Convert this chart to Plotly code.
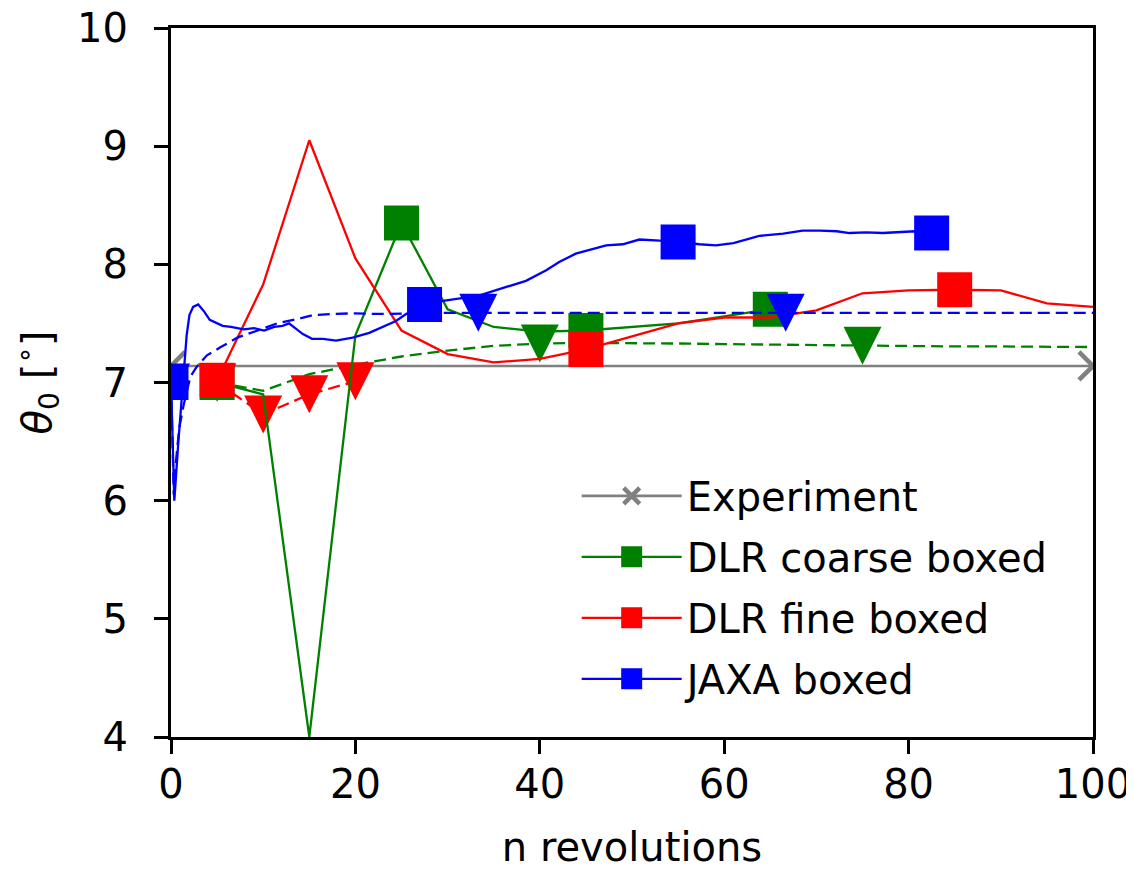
import plotly.graph_objects as go

# ---------------- data ----------------
exp_x = [0, 100]
exp_y = [7.14, 7.14]

# DLR coarse (dashed, triangles)
gc_dash_x = [5, 10, 15, 20, 25, 30, 35, 40, 45, 50, 55, 60, 65, 70, 75, 80, 85, 90, 95, 100]
gc_dash_y = [7.00, 6.93, 7.07, 7.15, 7.22, 7.27, 7.31, 7.33, 7.335, 7.335, 7.33, 7.325,
             7.32, 7.315, 7.31, 7.31, 7.305, 7.305, 7.30, 7.30]
gc_dash_mark = [5, 40, 75]

# DLR fine (dashed, triangles)
rf_dash_x = [5, 10, 15, 20]
rf_dash_y = [7.00, 6.73, 6.90, 7.01]
rf_dash_mark = [5, 10, 15, 20]

# DLR coarse boxed (solid, squares)
gc_box_x = [5, 10, 15, 20, 25, 30, 35, 40, 45, 50, 55, 60, 65]
gc_box_y = [7.00, 6.90, 4.00, 7.40, 8.35, 7.62, 7.47, 7.43, 7.44, 7.47, 7.50, 7.56, 7.62]
gc_box_mark = [5, 25, 45, 65]

# DLR fine boxed (solid, squares)
rf_box_x = [5, 10, 15, 20, 25, 30, 35, 40, 45, 50, 55, 60, 65, 70, 75, 80, 85, 90, 95, 100]
rf_box_y = [7.02, 7.83, 9.05, 8.05, 7.44, 7.24, 7.17, 7.20, 7.28, 7.39, 7.50, 7.55,
            7.55, 7.61, 7.755, 7.78, 7.785, 7.78, 7.67, 7.64]
rf_box_mark = [5, 45, 85]

# JAXA (dashed, triangles)
jx_dash_x = [0, 0.3, 0.5, 0.9, 1.4, 2.1, 2.85, 3.9, 5.4, 7.2, 9.4, 11.5, 13.9, 15.4, 17.5,
             19.7, 22.7, 25.2, 27.5, 30, 33.33, 40, 50, 60, 66.67, 70, 80, 90, 100]
jx_dash_y = [7.00, 6.05, 6.30, 6.62, 6.82, 7.05, 7.14, 7.23, 7.30, 7.38, 7.44, 7.50, 7.54, 7.57, 7.58,
             7.585, 7.58, 7.585, 7.585, 7.59, 7.59, 7.59, 7.59, 7.59, 7.59, 7.59, 7.59, 7.59, 7.59]
jx_dash_mark = [0, 33.33, 66.67]

# JAXA boxed (solid, squares)
jx_box_x = [0, 0.36, 0.8, 1.3, 1.7, 2.0, 2.4, 2.95, 3.6, 4.2, 4.7, 5.6, 6.5, 7.9, 9.0, 10.1,
            11.2, 12.1, 12.8, 13.5, 14.3, 15.3, 16.5, 17.9, 18.8, 19.7, 21.5, 22.9, 24.4,
            25.5, 27.5, 29.5, 31.5, 33.4, 35.6, 38.5, 40.7, 42.1, 43.9, 45.7, 47.2, 49.0,
            50.8, 53.0, 55.0, 57.3, 59.1, 61.0, 62.4, 63.8, 66.4, 68.5, 70.4, 72.2, 73.6,
            75.4, 77.2, 79.0, 80.7, 82.5]
jx_box_y = [7.00, 6.00, 6.50, 7.05, 7.40, 7.57, 7.64, 7.66, 7.60, 7.53, 7.51, 7.48, 7.47, 7.45,
            7.46, 7.44, 7.47, 7.48, 7.50, 7.46, 7.41, 7.37, 7.37, 7.355, 7.37, 7.38, 7.42, 7.47,
            7.52, 7.58, 7.66, 7.69, 7.71, 7.735, 7.79, 7.86, 7.95, 8.02, 8.09, 8.13, 8.16, 8.17,
            8.21, 8.20, 8.19, 8.17, 8.16, 8.18, 8.21, 8.24, 8.26, 8.285, 8.285, 8.28, 8.265,
            8.27, 8.265, 8.27, 8.28, 8.265]
jx_box_mark = [0, 27.5, 55, 82.5]

x_ticks = [0, 20, 40, 60, 80, 100]
y_ticks = [4, 5, 6, 7, 8, 9, 10]

GREEN = "#008000"
RED = "#ff0000"
BLUE = "#0000ff"
GRAY = "#808080"
FONT = "DejaVu Sans"
SQ = 35
TRI = 38
LW = 2.3
DASH = "12px,6px"


def pick(xs, ys, marks):
    px, py = [], []
    for m in marks:
        for xv, yv in zip(xs, ys):
            if abs(xv - m) < 1e-6:
                px.append(xv)
                py.append(yv)
    return px, py


fig = go.Figure()

# Experiment
fig.add_trace(go.Scatter(
    x=exp_x, y=exp_y, mode="lines+markers", showlegend=False,
    line=dict(color=GRAY, width=2.6),
    marker=dict(symbol="x-thin", size=28, line=dict(color=GRAY, width=4.5)),
))


def add_series(xs, ys, marks, color, dashed):
    fig.add_trace(go.Scatter(
        x=xs, y=ys, mode="lines", showlegend=False,
        line=dict(color=color, width=LW, dash=DASH if dashed else "solid"),
    ))
    mx, my = pick(xs, ys, marks)
    if dashed:
        mk = dict(symbol="arrow-down", angle=0, standoff=TRI / 2, size=TRI, color=color,
                  line=dict(width=0))
    else:
        mk = dict(symbol="square", size=SQ, color=color, line=dict(width=0))
    fig.add_trace(go.Scatter(x=mx, y=my, mode="markers", showlegend=False, marker=mk))


add_series(gc_dash_x, gc_dash_y, gc_dash_mark, GREEN, True)
add_series(rf_dash_x, rf_dash_y, rf_dash_mark, RED, True)
add_series(gc_box_x, gc_box_y, gc_box_mark, GREEN, False)
add_series(rf_box_x, rf_box_y, rf_box_mark, RED, False)
add_series(jx_dash_x, jx_dash_y, jx_dash_mark, BLUE, True)
add_series(jx_box_x, jx_box_y, jx_box_mark, BLUE, False)

# legend entries
fig.add_trace(go.Scatter(
    x=[None], y=[None], mode="lines+markers", name="Experiment", legendgroup="g0",
    line=dict(color=GRAY, width=2.6),
    marker=dict(symbol="x-thin", size=28, line=dict(color=GRAY, width=4.5)),
))
for i, (nm, c) in enumerate([("DLR coarse boxed", GREEN), ("DLR fine boxed", RED),
                             ("JAXA boxed", BLUE)]):
    fig.add_trace(go.Scatter(
        x=[None], y=[None], mode="lines+markers", name=nm, legendgroup="g%d" % (i + 1),
        line=dict(color=c, width=LW),
        marker=dict(symbol="square", size=SQ, color=c, line=dict(color=c, width=5)),
    ))

axis_common = dict(
    showline=True, linecolor="black", linewidth=3, mirror=True,
    ticks="outside", ticklen=14, tickwidth=3, tickcolor="black",
    showgrid=False, zeroline=False, ticklabeloverflow="allow",
    tickfont=dict(family=FONT, size=40, color="black"),
)

fig.update_xaxes(range=[0, 100], tickvals=x_ticks, ticktext=[str(v) for v in x_ticks],
                 title=dict(text="n revolutions", font=dict(family=FONT, size=40, color="black"),
                            standoff=33),
                 ticklabelstandoff=-4, **axis_common)
fig.update_yaxes(range=[4, 10], tickvals=y_ticks, ticktext=[str(v) for v in y_ticks],
                 title=dict(text="<i>θ</i><sub>0</sub> [<sup>∘</sup>]",
                            font=dict(family=FONT, size=40, color="black"), standoff=17),
                 ticklabelstandoff=18, **axis_common)

fig.update_layout(
    width=1126, height=862,
    margin=dict(l=163, r=41, t=20, b=133, autoexpand=False),
    plot_bgcolor="white", paper_bgcolor="white",
    font=dict(family=FONT, size=40, color="black"),
    legend=dict(x=0.44, y=0.386, xanchor="left", yanchor="top",
                bgcolor="rgba(0,0,0,0)", borderwidth=0, itemwidth=100,
                tracegroupgap=6, traceorder="grouped",
                font=dict(family=FONT, size=40, color="black")),
)

fig.write_html("out.html")
